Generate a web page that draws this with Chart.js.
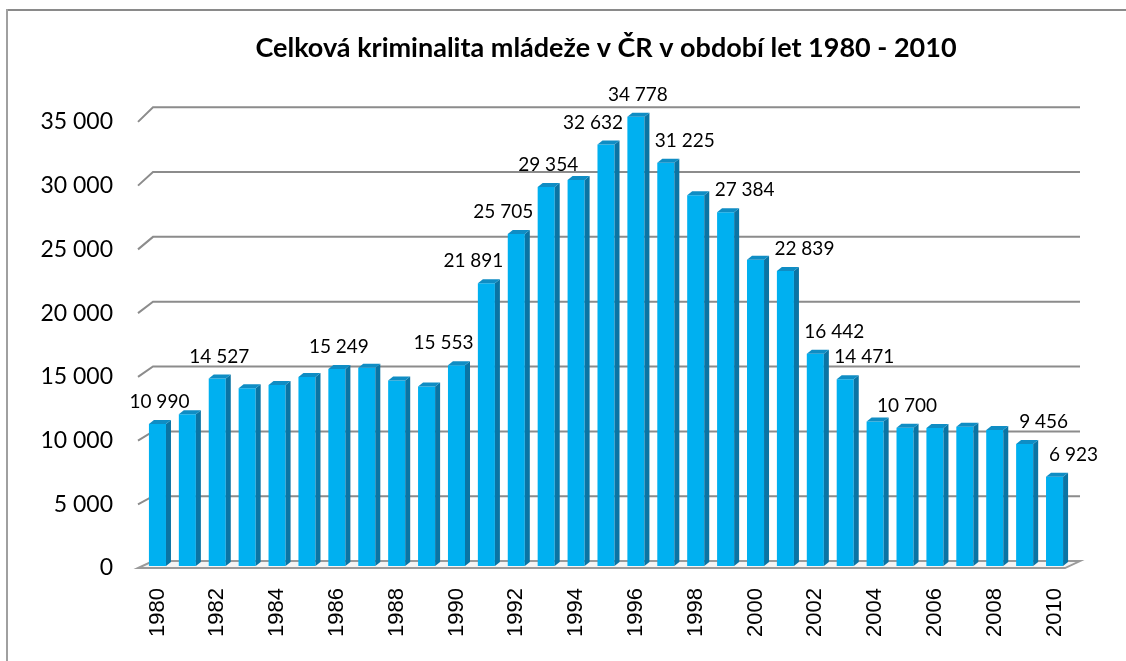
<!DOCTYPE html>
<html lang="cs">
<head>
<meta charset="UTF-8">
<script src="https://cdn.jsdelivr.net/npm/chart.js"></script>
<title>Kriminalita mládeže</title>
<style>
    body { margin: 0; background: #fff; }
    canvas { display: block; }
</style>
</head>
<body>
<canvas id="myChart" width="1126" height="661"></canvas>
<script>
    const years = ['1980','1981','1982','1983','1984','1985','1986','1987','1988','1989','1990',
        '1991','1992','1993','1994','1995','1996','1997','1998','1999','2000',
        '2001','2002','2003','2004','2005','2006','2007','2008','2009','2010'];
    const offences = [10990, 11760, 14527, 13760, 14020, 14630, 15249, 15350, 14370, 13910, 15553,
        21891, 25705, 29354, 29890, 32632, 34778, 31225, 28710, 27384, 23720,
        22839, 16442, 14471, 11200, 10700, 10690, 10790, 10530, 9456, 6923];
    // only these bars carry a value label in the original
    const labelledYears = ['1980','1982','1986','1990','1991','1992','1993','1995','1996','1997',
        '1999','2001','2002','2003','2005','2009','2010'];
    const yTicks = [0, 5000, 10000, 15000, 20000, 25000, 30000, 35000];
    const chartTitle = 'Celková kriminalita mládeže v ČR v období let 1980 - 2010';

    function fmt(n) {
        return String(n).replace(/\B(?=(\d{3})+(?!\d))/g, ' ');
    }

    // push a label away from a clearly taller neighbour, like the original does
    function labelShift(i) {
        const v = offences[i];
        const next = i < offences.length - 1 ? offences[i + 1] : 0;
        const prev = i > 0 ? offences[i - 1] : 0;
        if (next - v > 800) return -13;
        if (prev - v > 800) return 19;
        return 2;
    }

    // fake 3D look: back wall grid, floor, bar sides and tops
    const excel3d = {
        id: 'excel3d',
        beforeDraw(chart) {
            const ctx = chart.ctx;
            ctx.save();
            ctx.lineWidth = 2;
            ctx.strokeStyle = '#8a8a8a';
            ctx.beginPath();
            ctx.moveTo(7, 10);
            ctx.lineTo(1126, 10);
            ctx.stroke();
            ctx.strokeStyle = '#a0a0a0';
            ctx.beginPath();
            ctx.moveTo(7, 9);
            ctx.lineTo(7, 661);
            ctx.stroke();
            ctx.restore();
        },
        beforeDatasetsDraw(chart) {
            const ctx = chart.ctx;
            const {left, right, bottom} = chart.chartArea;
            const y = chart.scales.y;
            const front = p => bottom + 2 + (p - bottom) * 0.987;
            const back = p => bottom - 5 + (p - bottom) * 1.004;
            ctx.save();

            // floor
            const f0 = front(y.getPixelForValue(0)), b0 = back(y.getPixelForValue(0));
            ctx.beginPath();
            ctx.moveTo(left - 4.5, f0);
            ctx.lineTo(right - 4.5, f0);
            ctx.lineTo(right + 10.5, b0);
            ctx.lineTo(left + 10.5, b0);
            ctx.closePath();
            ctx.fillStyle = '#f4f4f4';
            ctx.fill();
            ctx.strokeStyle = '#9a9a9a';
            ctx.lineWidth = 2;
            ctx.stroke();

            // back wall grid lines
            ctx.strokeStyle = '#8c8c8c';
            yTicks.forEach(v => {
                if (v === 0) return;
                const p = y.getPixelForValue(v);
                ctx.beginPath();
                ctx.moveTo(left - 4.5, front(p));
                ctx.lineTo(left + 10.5, back(p));
                ctx.lineTo(right + 10.5, back(p));
                ctx.stroke();
            });

            // value axis labels
            ctx.fillStyle = '#000';
            ctx.font = '23px Lato';
            ctx.textAlign = 'right';
            ctx.textBaseline = 'middle';
            yTicks.forEach(v => {
                const p = y.getPixelForValue(v);
                ctx.fillText(fmt(v), left - 29.5, front(p));
            });
            ctx.restore();
        },
        afterDatasetsDraw(chart) {
            const ctx = chart.ctx;
            const meta = chart.getDatasetMeta(0);
            const dx = 5, dy = 4;
            ctx.save();
            meta.data.forEach(bar => {
                const {x, y, base, width} = bar.getProps(['x', 'y', 'base', 'width'], true);
                const l = x - width / 2, r = x + width / 2;
                // side
                ctx.fillStyle = '#0a74a4';
                ctx.beginPath();
                ctx.moveTo(r, y);
                ctx.lineTo(r + dx, y - dy);
                ctx.lineTo(r + dx, base - dy);
                ctx.lineTo(r, base);
                ctx.closePath();
                ctx.fill();
                // top
                ctx.fillStyle = '#0f8dc4';
                ctx.beginPath();
                ctx.moveTo(l, y);
                ctx.lineTo(l + dx, y - dy);
                ctx.lineTo(r + dx, y - dy);
                ctx.lineTo(r, y);
                ctx.closePath();
                ctx.fill();
            });

            ctx.fillStyle = '#000';
            ctx.font = '19px Lato';
            ctx.textAlign = 'center';
            ctx.textBaseline = 'middle';
            meta.data.forEach((bar, i) => {
                if (!labelledYears.includes(years[i])) return;
                ctx.fillText(fmt(offences[i]), bar.x + labelShift(i), bar.y - 22);
            });
            ctx.restore();
        }
    };

    new Chart(document.getElementById('myChart'), {
        type: 'bar',
        data: {
            labels: years,
            datasets: [{
                data: offences,
                backgroundColor: '#00b0f0',
                borderWidth: 0,
                categoryPercentage: 1,
                barPercentage: 0.57,
                clip: false
            }]
        },
        options: {
            responsive: false,
            animation: false,
            layout: {
                padding: {left: 142.5, right: 56.5, top: 10, bottom: 2}
            },
            plugins: {
                legend: {display: false},
                tooltip: {enabled: false},
                title: {
                    display: true,
                    text: chartTitle,
                    color: '#000',
                    font: {family: 'Lato', size: 27, weight: 'bold', lineHeight: 1.2},
                    padding: {top: 21.8, bottom: 49.8}
                }
            },
            scales: {
                x: {
                    grid: {display: false, drawTicks: false},
                    border: {display: false},
                    ticks: {
                        autoSkip: false,
                        minRotation: 90,
                        maxRotation: 90,
                        padding: 22,
                        color: '#000',
                        font: {family: 'Liberation Sans', size: 22},
                        callback: (val, i) => (i % 2 === 0 ? years[i] : '')
                    }
                },
                y: {
                    display: false,
                    min: 0,
                    max: 35000
                }
            }
        },
        plugins: [excel3d]
    });
</script>
</body>
</html>
